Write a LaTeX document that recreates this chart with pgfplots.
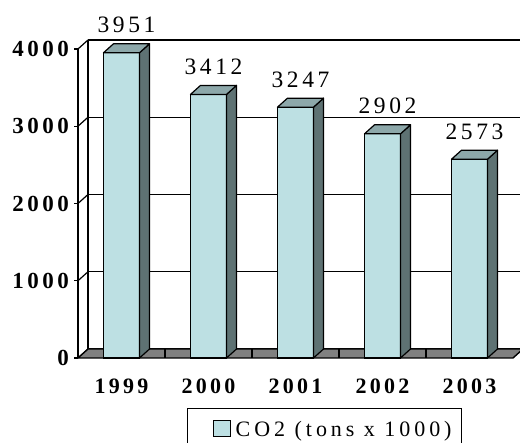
\documentclass[border=0pt]{standalone}
\usepackage{fontspec}
\setmainfont{Liberation Serif}[LetterSpace=15]
\newfontfamily\legfont{Liberation Serif}[LetterSpace=18]
\usepackage{pgfplots}
\pgfplotsset{compat=1.18}
\definecolor{frontcol}{RGB}{189,224,227}
\definecolor{topcol}{RGB}{141,168,170}
\definecolor{sidecol}{RGB}{94,114,115}
\definecolor{floorcol}{RGB}{128,128,128}
\pgfkeys{/pgf/number format/1000 sep={}, /pgf/number format/assume math mode=true}
\begin{document}
\begin{tikzpicture}[x=1pt,y=1pt]
\useasboundingbox (0,0) rectangle (520,443);
% walls and gridlines
\foreach \v in {0,1000,2000,3000,4000} {
  \pgfmathsetmacro\h{\v*0.07725}
  \draw[line width=1.2pt] (88,94+\h) -- (540,94+\h);
  \draw[line width=1.2pt] (78,85+\h) -- (88,94+\h);
  \draw[line width=1.2pt] (74,85+\h) -- (78,85+\h);
}
\draw[line width=1.2pt] (88,94) -- (88,403);
\draw[line width=1.2pt] (78,85) -- (78,394);
% floor
\filldraw[fill=floorcol, line width=1.4pt, line join=round] (78,85) -- (513,85) -- (523,94) -- (88,94) -- cycle;
\foreach \k in {1,2,3,4} {
  \draw[line width=1.2pt] (78+87*\k,85) -- (78+87*\k,94);
}
\begin{axis}[
  at={(78pt,85pt)}, anchor=south west,
  scale only axis, width=435pt, height=309pt,
  xmin=-0.5, xmax=4.5, ymin=0, ymax=4000,
  enlargelimits=false, clip=false,
  axis line style={draw=none},
  major tick length=0pt,
  xtick={0,1,2,3,4},
  xticklabels={1999,2000,2001,2002,2003},
  ytick={0,1000,2000,3000,4000},
  yticklabels={0,1000,2000,3000,4000},
  xticklabel style={font=\bfseries\fontsize{22}{24}\selectfont, anchor=north, inner sep=0pt, yshift=-21pt},
  yticklabel style={font=\bfseries\fontsize{23}{25}\selectfont, anchor=east, inner sep=0pt, xshift=-9pt},
  legend style={at={(0.2506,-0.1618)}, anchor=north west, draw=black, line width=1.2pt,
    inner xsep=8pt, inner ysep=11pt, font=\legfont\fontsize{22}{24}\selectfont},
  legend image code/.code={\path (-17pt,0pt); \draw[fill=frontcol,line width=1pt] (0pt,-7pt) rectangle (17pt,9pt);},
]
% side and top faces of the columns
\addplot[scatter, only marks, forget plot, mark=*, mark size=0pt,
  mark options={draw=none, fill=none},
  visualization depends on={rawy \as \val},
  scatter/@pre marker code/.code={
    \pgfmathsetmacro\hh{\val*0.07725}
    \pgfmathsetmacro\hb{9-\hh}
    \pgfmathsetmacro\hf{-\hh}
    \filldraw[fill=sidecol, draw=black, line width=1.2pt, line join=round]
      (18pt,0pt) -- (28pt,9pt) -- (28pt,\hb pt) -- (18pt,\hf pt) -- cycle;
    \filldraw[fill=topcol, draw=black, line width=1.2pt, line join=round]
      (-18pt,0pt) -- (18pt,0pt) -- (28pt,9pt) -- (-8pt,9pt) -- cycle;
  },
  scatter/@post marker code/.code={}
] coordinates {(0,3951) (1,3412) (2,3247) (3,2902) (4,2573)};
% front faces
\addplot[ybar, bar width=36pt, bar shift=0pt, fill=frontcol, draw=black, line width=1.2pt,
  nodes near coords,
  every node near coord/.append style={font=\fontsize{23.5}{25}\selectfont, anchor=south, inner sep=0pt, xshift=5pt, yshift=19pt}
] coordinates {(0,3951) (1,3412) (2,3247) (3,2902) (4,2573)};
\addlegendentry{\hspace{3pt}CO2 (tons x 1000)}
\end{axis}
\end{tikzpicture}
\end{document}
